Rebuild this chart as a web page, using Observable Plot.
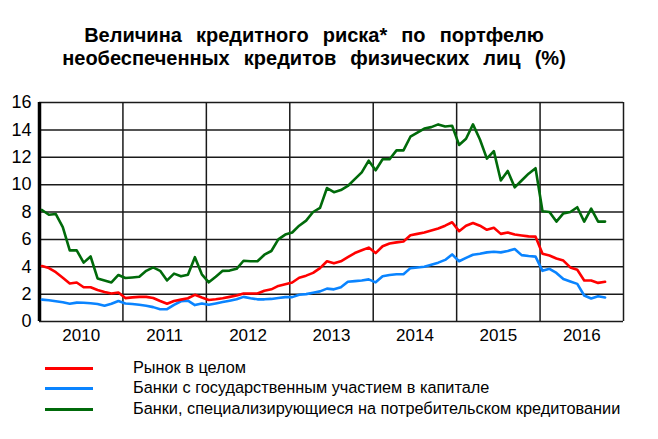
<!DOCTYPE html>
<html><head><meta charset="utf-8">
<script src="https://cdn.jsdelivr.net/npm/d3@7"></script>
<script src="https://cdn.jsdelivr.net/npm/@observablehq/plot@0.6"></script>
<style>
body{margin:0;background:#fff;font-family:"Liberation Sans",Arial,sans-serif;}
#wrap{position:relative;width:658px;height:439px;overflow:hidden;background:#fff}
#title{position:absolute;left:0;top:24px;width:628px;text-align:center;font-weight:bold;font-size:20px;line-height:23px;word-spacing:8.5px;color:#000}
#chart{position:absolute;left:0;top:88px}
.lg{position:absolute;left:0;width:658px;height:20px;font-size:16.3px;color:#000}
.lg .sw{position:absolute;left:45px;top:9px;width:48px;height:3px}
.lg .tx{position:absolute;left:133px;top:0px;white-space:nowrap}
</style></head>
<body>
<div id="wrap">
  <div id="title">Величина кредитного риска* по портфелю<br>необеспеченных кредитов физических лиц (%)</div>
  <div id="chart"></div>
  <div id="legend"></div>
</div>
<script>
const startYear = 2010;
const seriesNames = ["Рынок в целом", "Банки с государственным участием в капитале", "Банки, специализирующиеся на потребительском кредитовании"];
const seriesColors = ["#ff0000", "#0a84ff", "#006a0a"];
// monthly values, Jan 2010 – Oct 2016
const market = [
  4.05, 3.9, 3.6, 3.2, 2.78, 2.85, 2.5, 2.5, 2.3, 2.15, 2.05, 2.12,
  1.71, 1.76, 1.8, 1.8, 1.72, 1.5, 1.3, 1.5, 1.6, 1.7, 1.95, 1.75,
  1.57, 1.62, 1.7, 1.8, 1.9, 2.05, 2.05, 2.05, 2.25, 2.35, 2.6, 2.72,
  2.85, 3.2, 3.35, 3.55, 3.9, 4.4, 4.25, 4.4, 4.7, 5.0, 5.2, 5.4,
  5.0, 5.5, 5.7, 5.78, 5.85, 6.3, 6.4, 6.5, 6.65, 6.8, 7.0, 7.25,
  6.6, 7.0, 7.2, 7.0, 6.7, 6.85, 6.4, 6.5, 6.35, 6.28, 6.22, 6.2,
  4.95, 4.82, 4.6, 4.45, 3.95, 3.78, 3.0, 3.0, 2.82, 2.9
];
const stateBanks = [
  1.6, 1.55, 1.48, 1.4, 1.3, 1.38, 1.37, 1.33, 1.28, 1.15, 1.3, 1.5,
  1.32, 1.28, 1.22, 1.15, 1.05, 0.9, 0.9, 1.22, 1.48, 1.52, 1.2, 1.32,
  1.22, 1.32, 1.42, 1.52, 1.62, 1.8, 1.7, 1.62, 1.62, 1.65, 1.72, 1.78,
  1.78, 1.95, 2.0, 2.1, 2.2, 2.4, 2.35, 2.5, 2.9, 2.95, 3.0, 3.08,
  2.86, 3.3, 3.4, 3.45, 3.45, 3.9, 3.95, 4.0, 4.15, 4.3, 4.5, 4.9,
  4.4, 4.65, 4.88, 4.95, 5.05, 5.1, 5.05, 5.15, 5.3, 4.85, 4.78, 4.74,
  3.7, 3.85, 3.55, 3.1, 2.92, 2.75, 1.9, 1.68, 1.85, 1.76
];
const consumerBanks = [
  8.15, 7.8, 7.85, 6.9, 5.2, 5.2, 4.3, 4.75, 3.15, 3.0, 2.85, 3.4,
  3.18, 3.22, 3.27, 3.7, 3.95, 3.7, 3.0, 3.5, 3.3, 3.42, 4.7, 3.45,
  2.86, 3.27, 3.7, 3.72, 3.85, 4.44, 4.4, 4.4, 4.88, 5.15, 6.0, 6.35,
  6.5, 7.0, 7.37, 8.0, 8.3, 9.75, 9.45, 9.6, 9.9, 10.4, 10.9, 11.75,
  11.05, 11.85, 11.85, 12.5, 12.5, 13.5, 13.8, 14.1, 14.2, 14.4, 14.25, 14.3,
  12.9, 13.35, 14.4, 13.3, 11.9, 12.45, 10.3, 11.0, 9.8, 10.3, 10.8, 11.2,
  8.05, 8.0, 7.3, 7.9, 8.0, 8.35, 7.3, 8.25, 7.3, 7.3
];
const yTicks = [0, 2, 4, 6, 8, 10, 12, 14, 16];
const yearBounds = [2010, 2011, 2012, 2013, 2014, 2015, 2016, 2017];
const yearLabels = [2010, 2011, 2012, 2013, 2014, 2015, 2016];

const toX = i => startYear + (i + 0.35) / 12;
const mk = arr => arr.map((v, i) => ({x: toX(i), v}));
const all = [market, stateBanks, consumerBanks];

const plot = Plot.plot({
  width: 658, height: 258,
  marginLeft: 39, marginRight: 35, marginTop: 14, marginBottom: 25,
  style: {fontFamily: "'Liberation Sans', Arial, sans-serif", background: "#fff", color: "#000"},
  x: {domain: [2010, 2017], axis: null},
  y: {domain: [0, 16], axis: null},
  marks: [
    Plot.ruleY(yTicks, {stroke: "#1a1a1a", strokeWidth: 1.5}),
    Plot.ruleX(yearBounds, {stroke: "#1a1a1a", strokeWidth: 1.5}),
    Plot.ruleX([2010], {stroke: "#000", strokeWidth: 3.5}),
    ...all.map((arr, k) => Plot.line(mk(arr), {x: "x", y: "v", stroke: seriesColors[k], strokeWidth: 2.6, strokeLinejoin: "round"})).reverse(),
    Plot.axisY(yTicks, {tickSize: 0, tickPadding: 8, fontSize: 18, label: null}),
    Plot.axisX(yearLabels.map(y => y + 0.5), {tickSize: 0, tickPadding: 7, fontSize: 17, label: null, tickFormat: d => String(Math.floor(d))})
  ]
});
document.getElementById("chart").appendChild(plot);

const lg = document.getElementById("legend");
const rowTops = [358, 378, 399];
seriesNames.forEach((n, k) => {
  const row = document.createElement("div");
  row.className = "lg";
  row.style.top = rowTops[k] + "px";
  row.innerHTML = `<div class="sw" style="background:${seriesColors[k]}"></div><div class="tx">${n}</div>`;
  lg.appendChild(row);
});
</script>
</body></html>
